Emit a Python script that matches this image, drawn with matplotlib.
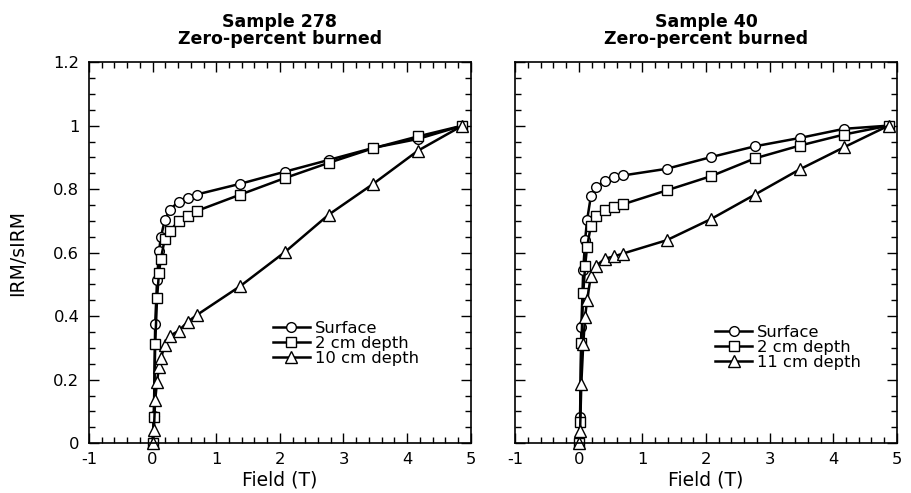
import matplotlib.pyplot as plt
from matplotlib.ticker import MultipleLocator

plt.rcParams['font.family'] = ['DejaVu Sans']
plt.rcParams['axes.unicode_minus'] = False

# Campo aplicado (T) - mesmo conjunto para as duas amostras.
campo = [0, 0.02, 0.04, 0.07, 0.10, 0.13, 0.19, 0.27, 0.41, 0.55, 0.69,
         1.38, 2.08, 2.77, 3.47, 4.17, 4.87]

# Amostra 278
s278_sup = [0, 0.085, 0.375, 0.515, 0.605, 0.649, 0.702, 0.735, 0.761, 0.773, 0.783,
            0.817, 0.855, 0.892, 0.930, 0.958, 1.0]
s278_2cm = [0, 0.081, 0.312, 0.458, 0.537, 0.581, 0.642, 0.668, 0.700, 0.717, 0.731,
            0.783, 0.835, 0.883, 0.929, 0.966, 1.0]
s278_10cm = [0, 0.042, 0.136, 0.194, 0.241, 0.267, 0.309, 0.338, 0.354, 0.382, 0.403,
             0.495, 0.602, 0.720, 0.817, 0.921, 1.0]

# Amostra 40
s40_sup = [0, 0.084, 0.367, 0.545, 0.641, 0.702, 0.778, 0.808, 0.825, 0.838, 0.843,
           0.864, 0.901, 0.935, 0.961, 0.990, 1.0]
s40_2cm = [0, 0.068, 0.314, 0.473, 0.558, 0.618, 0.685, 0.715, 0.733, 0.745, 0.752,
           0.796, 0.841, 0.897, 0.937, 0.972, 1.0]
s40_11cm = [0, 0.037, 0.188, 0.312, 0.398, 0.450, 0.527, 0.558, 0.581, 0.588, 0.597,
            0.639, 0.706, 0.783, 0.862, 0.932, 1.0]

fig = plt.figure(figsize=(9.11, 4.93), dpi=100)
ax1 = fig.add_axes([0.0977, 0.101, 0.419, 0.773])
ax2 = fig.add_axes([0.5655, 0.101, 0.419, 0.773])

estilo = dict(color='black', lw=1.8, mfc='white', mec='black', mew=1.0, clip_on=False)

ax1.plot(campo, s278_sup, marker='o', ms=7, label='Surface', **estilo)
ax1.plot(campo, s278_2cm, marker='s', ms=7.5, label='2 cm depth', **estilo)
ax1.plot(campo, s278_10cm, marker='^', ms=8.5, label='10 cm depth', **estilo)

ax2.plot(campo, s40_sup, marker='o', ms=7, label='Surface', **estilo)
ax2.plot(campo, s40_2cm, marker='s', ms=7.5, label='2 cm depth', **estilo)
ax2.plot(campo, s40_11cm, marker='^', ms=8.5, label='11 cm depth', **estilo)

ax1.set_title('Sample 278\nZero-percent burned', fontsize=12.5, fontweight='bold', pad=13,
              linespacing=0.95)
ax2.set_title('Sample 40\nZero-percent burned', fontsize=12.5, fontweight='bold', pad=13,
              linespacing=0.95)

for ax in (ax1, ax2):
    ax.set_xlim(-1, 5)
    ax.set_ylim(0, 1.2)
    ax.xaxis.set_major_locator(MultipleLocator(1))
    ax.xaxis.set_minor_locator(MultipleLocator(0.2))
    ax.yaxis.set_major_locator(MultipleLocator(0.2))
    ax.yaxis.set_minor_locator(MultipleLocator(0.05))
    ax.tick_params(which='both', direction='in', top=True, right=True, labelsize=11.8,
                   width=1.0)
    ax.tick_params(axis='x', pad=6)
    ax.tick_params(axis='y', pad=7)
    ax.tick_params(which='major', length=7)
    ax.tick_params(which='minor', length=4)
    for s in ax.spines.values():
        s.set_linewidth(1.2)
    ax.set_xlabel('Field (T)', fontsize=13.5, labelpad=3)

ax1.yaxis.set_major_formatter(plt.FuncFormatter(lambda v, p: '%g' % round(v, 2)))
ax1.xaxis.set_major_formatter(plt.FuncFormatter(lambda v, p: '%g' % v))
ax2.xaxis.set_major_formatter(plt.FuncFormatter(lambda v, p: '%g' % v))
ax2.tick_params(axis='y', labelleft=False)
ax1.set_ylabel('IRM/sIRM', fontsize=13.5, labelpad=19)

leg_kw = dict(frameon=False, fontsize=11.8, handlelength=2.25, handletextpad=0.3,
              labelspacing=0.0, borderpad=0, borderaxespad=0, loc='center left')
ax1.legend(bbox_to_anchor=(0.482, 0.262), **leg_kw)
ax2.legend(bbox_to_anchor=(0.524, 0.252), **leg_kw)

plt.savefig('out.png', dpi=100)
